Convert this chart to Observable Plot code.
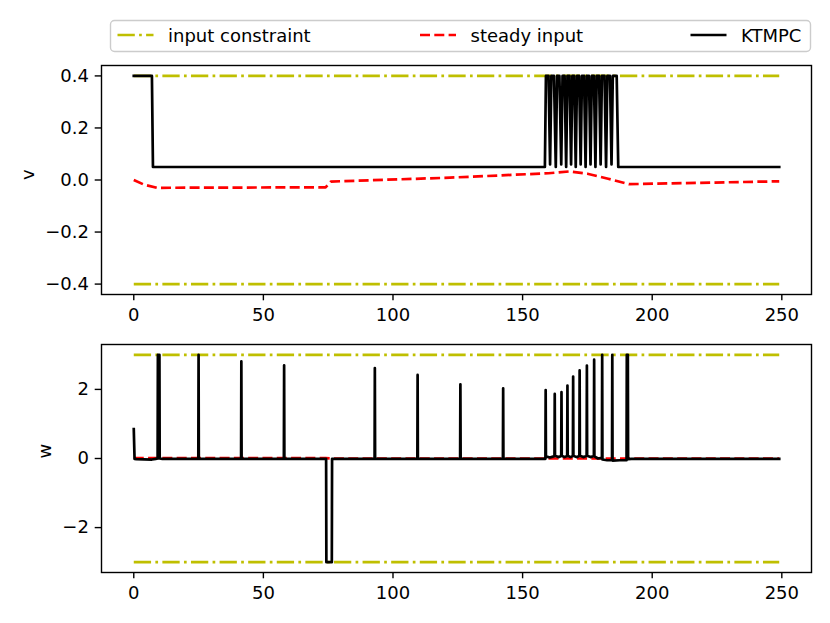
<!DOCTYPE html>
<html><head><meta charset="utf-8">
<script src="https://cdn.jsdelivr.net/npm/d3@7"></script>
<script src="https://cdn.jsdelivr.net/npm/@observablehq/plot@0.6"></script>
<style>
body{margin:0;background:#fff;}
#fig{position:relative;width:830px;height:623px;font-family:"DejaVu Sans",sans-serif;background:#fff;overflow:hidden}
#p1,#p2{position:absolute;left:0}
#p1{top:0}
#p2{top:324px}
#legend{position:absolute;left:0;top:0}
</style></head><body>
<div id="fig"><div id="p1"></div><div id="p2"></div><svg id="legend" width="830" height="60"></svg></div>
<script>
// ---------- data ----------
const seriesNames = ["input constraint", "steady input", "KTMPC"];
const seriesColors = ["#bfbf00", "#ff0000", "#000000"];
const tStart = 0, tEnd = 249;
const vLimit = 0.4, wLimit = 3;

// top panel: linear velocity v
const vKtmpcT = [0, 7, 7.4, 158.6, 159, 160, 160.6, 161.1, 162.1, 162.8, 163.3, 164.2, 164.9, 165.4, 166.2, 166.8, 167.3, 168.1, 168.7, 169.2, 169.9, 170.5, 171.0, 171.8, 172.4, 172.9, 173.7, 174.3, 174.8, 175.6, 176.2, 176.7, 177.5, 178.1, 178.6, 179.5, 180.1, 180.6, 181.6, 182.2, 182.7, 183.7, 184.3, 184.8, 186.3, 186.9, 249];
const vKtmpc  = [0.4, 0.4, 0.05, 0.05, 0.4, 0.4, 0.06, 0.4, 0.4, 0.05, 0.4, 0.4, 0.06, 0.4, 0.4, 0.05, 0.4, 0.4, 0.06, 0.4, 0.4, 0.05, 0.4, 0.4, 0.06, 0.4, 0.4, 0.05, 0.4, 0.4, 0.06, 0.4, 0.4, 0.05, 0.4, 0.4, 0.06, 0.4, 0.4, 0.05, 0.4, 0.4, 0.06, 0.4, 0.4, 0.05, 0.05];
const vSteadyT = [0, 4, 9, 74, 76, 122, 160, 168, 175, 183, 191, 249];
const vSteady  = [0, -0.018, -0.03, -0.028, -0.006, 0.009, 0.026, 0.033, 0.024, 0.005, -0.016, -0.005];
const vTicks = [-0.4, -0.2, 0, 0.2, 0.4];

// bottom panel: angular velocity w
const wKtmpcT = [0, 0.3, 1, 7, 8.5, 9.2, 9.3, 9.9, 10.0, 11, 24.9, 25.0, 25.1, 41.4, 41.5, 41.6, 57.9, 58.0, 58.1, 74.2, 74.3, 76.4, 76.5, 92.9, 93.0, 93.1, 109.4, 109.5, 109.6, 125.9, 126.0, 126.1, 142.4, 142.5, 142.6, 158.8, 158.9, 159.0, 160.5, 162.3, 162.4, 162.5, 163.8, 164.9, 165.0, 165.1, 166.2, 167.2, 167.3, 167.4, 168.5, 169.4, 169.5, 169.6, 170.8, 171.9, 172.0, 172.1, 173.4, 174.7, 174.8, 174.9, 176.2, 177.5, 177.6, 177.7, 179.1, 180.6, 180.7, 180.8, 182.6, 184.5, 184.6, 184.7, 187.5, 190.1, 190.2, 190.6, 190.7, 192, 249];
const wKtmpc  = [0.85, -0.01, -0.02, -0.03, -0.01, 0, 3.0, 3.0, 0, -0.01, -0.01, 3.0, -0.01, -0.01, 2.81, -0.01, -0.01, 2.70, -0.01, -0.01, -3.0, -3.0, -0.01, -0.01, 2.62, -0.01, -0.01, 2.42, -0.01, -0.01, 2.15, -0.01, -0.01, 2.03, -0.01, -0.01, 1.98, 0.06, 0.03, 0.07, 1.87, 0.08, 0.04, 0.07, 1.92, 0.08, 0.04, 0.07, 2.11, 0.08, 0.04, 0.07, 2.37, 0.08, 0.04, 0.07, 2.55, 0.08, 0.04, 0.07, 2.69, 0.08, 0.04, 0.07, 2.86, 0.06, 0.0, 0.02, 3.0, -0.03, -0.05, -0.05, 3.0, -0.06, -0.05, -0.05, 3.0, 3.0, -0.02, -0.01, -0.01];
const wSteadyT = [0, 74, 76, 249];
const wSteady  = [0.01, 0.01, 0.0, 0.0];
const wTicks = [-2, 0, 2];
const xTicks = [0, 50, 100, 150, 200, 250];

// ---------- build ----------
const zip = (ts, vs) => ts.map((t, i) => ({t, v: vs[i]}));
const dashDot = "17.3,4.3,2.7,4.3";
const dashed = "10,4.3";
const lw = 2.7;

function panel({height, marginTop, marginBottom, yDomain, yTicks, yFormat, limit, steady, ktmpc, label, labelDx}) {
  const limits = [
    [{t: tStart, v: limit}, {t: tEnd, v: limit}],
    [{t: tStart, v: -limit}, {t: tEnd, v: -limit}]
  ];
  return Plot.plot({
    width: 830, height, marginTop, marginBottom, marginLeft: 101, marginRight: 19,
    style: {fontFamily: "DejaVu Sans", fontSize: "18px", background: "white", color: "black", overflow: "visible"},
    x: {domain: [-12.45, 261.45]},
    y: {domain: yDomain},
    marks: [
      ...limits.map(d => Plot.line(d, {x: "t", y: "v", stroke: seriesColors[0], strokeWidth: lw, strokeDasharray: dashDot, strokeLinecap: "butt"})),
      Plot.line(steady, {x: "t", y: "v", stroke: seriesColors[1], strokeWidth: lw, strokeDasharray: dashed, strokeLinecap: "butt"}),
      Plot.line(ktmpc, {x: "t", y: "v", stroke: seriesColors[2], strokeWidth: lw, strokeLinejoin: "round", strokeLinecap: "square"}),
      Plot.frame({stroke: "black", strokeWidth: 1.4}),
      Plot.axisX({ticks: xTicks, tickFormat: d3.format("d"), tickSize: 6.3, tickPadding: 7.5, strokeWidth: 1.4, label: null}),
      Plot.axisY({ticks: yTicks, tickFormat: yFormat, tickSize: 6.3, tickPadding: 6.3, strokeWidth: 1.4, label: null}),
      Plot.text([label], {frameAnchor: "left", dx: labelDx, rotate: -90, fontSize: 18, fill: "black"})
    ]
  });
}

document.getElementById("p1").append(panel({
  height: 324, marginTop: 65, marginBottom: 30,
  yDomain: [-0.44, 0.44], yTicks: vTicks, yFormat: d3.format(".1f"), limit: vLimit,
  steady: zip(vSteadyT, vSteady), ktmpc: zip(vKtmpcT, vKtmpc), label: "v", labelDx: -73.5
}));
document.getElementById("p2").append(panel({
  height: 299, marginTop: 20, marginBottom: 51,
  yDomain: [-3.3, 3.3], yTicks: wTicks, yFormat: d3.format("d"), limit: wLimit,
  steady: zip(wSteadyT, wSteady), ktmpc: zip(wKtmpcT, wKtmpc), label: "w", labelDx: -56.3
}));

// ---------- legend ----------
const leg = d3.select("#legend");
leg.append("rect").attr("x", 110.5).attr("y", 20.5).attr("width", 700).attr("height", 31).attr("rx", 4)
  .attr("fill", "white").attr("stroke", "#cccccc").attr("stroke-width", 1.4);
const legX = [117.5, 420, 690.5];
const dashes = [dashDot, dashed, null];
seriesNames.forEach((name, i) => {
  const l = leg.append("line").attr("x1", legX[i]).attr("x2", legX[i] + 36).attr("y1", 35).attr("y2", 35)
    .attr("stroke", seriesColors[i]).attr("stroke-width", lw);
  if (dashes[i]) l.attr("stroke-dasharray", dashes[i]);
  leg.append("text").attr("x", legX[i] + 50.5).attr("y", 41.5).attr("font-family", "DejaVu Sans")
    .attr("font-size", 18).attr("fill", "black").text(name);
});
</script>
</body></html>
